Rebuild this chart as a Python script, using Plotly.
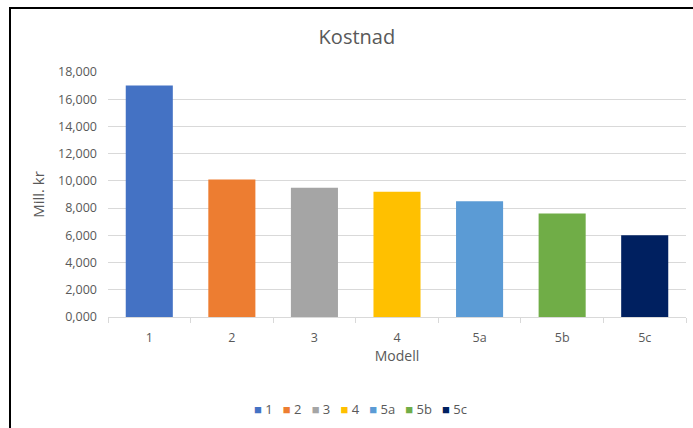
import plotly.graph_objects as go

# Cost per model (million NOK)
models = ["1", "2", "3", "4", "5a", "5b", "5c"]
costs = [17.0, 10.1, 9.5, 9.2, 8.5, 7.6, 6.0]
colors = ["#4472C4", "#ED7D31", "#A5A5A5", "#FFC000", "#5B9BD5", "#70AD47", "#002060"]
y_ticks = [0, 2, 4, 6, 8, 10, 12, 14, 16, 18]

FONT = "'Open Sans', sans-serif"
GREY = "#595959"

fig = go.Figure()
for m, c, col in zip(models, costs, colors):
    fig.add_trace(go.Bar(
        x=[m], y=[c], name=m,
        marker=dict(color=col, line=dict(width=0)),
        showlegend=False,
    ))

# Compact legend row built as one line of coloured squares and labels
legend_text = "&nbsp;&nbsp;&nbsp;".join(
    f"<span style='color:{col}'>■</span>&nbsp;{m}" for m, col in zip(models, colors)
)
fig.add_annotation(text=legend_text, xref="paper", yref="paper",
                   x=(360 - 108) / 578, y=-(409 - 317) / 245,
                   xanchor="center", yanchor="middle", showarrow=False,
                   font=dict(size=13, color=GREY, family=FONT))

fig.update_layout(
    width=693, height=428,
    margin=dict(l=108, r=7, t=72, b=111),
    paper_bgcolor="white", plot_bgcolor="white",
    barmode="overlay", bargap=0.43,
    separators=", ",
    showlegend=False,
    font=dict(family=FONT, color=GREY, size=12),
    title=dict(text="Kostnad", x=0.515, xref="container", xanchor="center",
               y=1 - 37 / 428, yref="container", yanchor="middle",
               font=dict(size=20, color=GREY, family=FONT)),
    xaxis=dict(categoryorder="array", categoryarray=models,
               showline=True, linecolor="#D9D9D9", linewidth=1,
               ticks="outside", tickson="boundaries", ticklen=5, tickcolor="#D9D9D9",
               ticklabelstandoff=9,
               showgrid=False, tickfont=dict(size=12.5, color=GREY),
               title=dict(text="Modell", font=dict(size=14, color=GREY), standoff=0)),
    yaxis=dict(range=[0, 18], tickvals=y_ticks, tickformat=".3f",
               showgrid=True, gridcolor="#D9D9D9", gridwidth=1,
               zeroline=False, showline=False, ticks="", ticklabelstandoff=10,
               tickfont=dict(size=12.5, color=GREY),
               title=dict(text="Mill. kr", font=dict(size=15, color=GREY), standoff=9)),
)

# Black frame around the chart area
fig.add_shape(type="rect", xref="paper", yref="paper",
              x0=-98 / 578, x1=1.05, y0=-0.6, y1=1 + 64 / 245,
              line=dict(color="black", width=2), fillcolor="rgba(0,0,0,0)",
              layer="above")

fig.write_html("out.html")
